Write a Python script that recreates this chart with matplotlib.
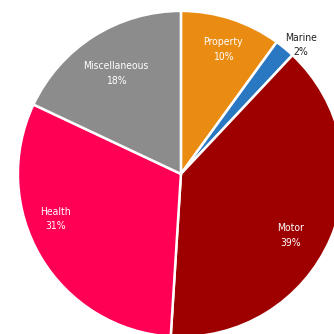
import matplotlib.pyplot as plt
import matplotlib as mpl

mpl.rcParams['font.family'] = ['DejaVu Sans']
mpl.rcParams['font.stretch'] = 'condensed'

# premium mix by line of business
segments = ['Property', 'Marine', 'Motor', 'Health', 'Miscellaneous']
shares = [10, 2, 39, 31, 18]
colors = ['#EB8C12', '#2B78C2', '#9E0000', '#FF0055', '#8C8C8C']
text_colors = ['white', '#222222', 'white', 'white', 'white']

# label anchor points (in pie-radius units)
label_pos = [(0.258, 0.764), (0.736, 0.791), (0.675, -0.377),
             (-0.767, -0.276), (-0.399, 0.617)]

fig = plt.figure(figsize=(3.34, 3.34), dpi=100)
ax = fig.add_axes([0, 0, 1, 1])

ax.pie(shares, colors=colors, startangle=90, counterclock=False,
       radius=1.0, wedgeprops={'edgecolor': 'white', 'linewidth': 1.8})

for name, val, (x, y), tc in zip(segments, shares, label_pos, text_colors):
    ax.text(x, y, f"{name}\n{val}%", ha='center', va='center',
            color=tc, fontsize=7.5, linespacing=1.55)

ax.set_xlim(-1.110, 0.939)
ax.set_ylim(-0.982, 1.067)
ax.set_aspect('equal')
ax.axis('off')

fig.savefig('out.png', dpi=100)
